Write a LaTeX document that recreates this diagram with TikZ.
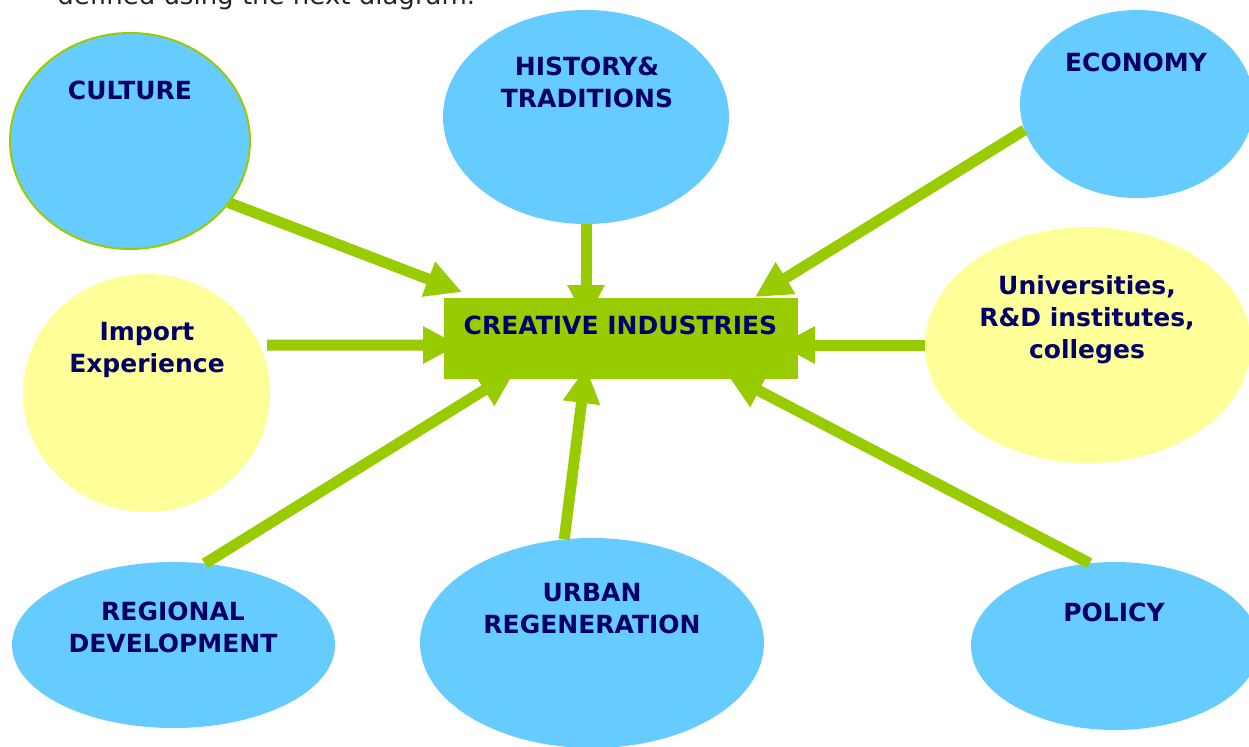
\documentclass[tikz,border=0pt]{standalone}
\usepackage{fontspec}
\setmainfont{DejaVu Sans}
\usetikzlibrary{shapes.geometric,arrows.meta}
\definecolor{cblue}{HTML}{66CCFF}
\definecolor{cyel}{HTML}{FFFF99}
\definecolor{cgreen}{HTML}{99CC00}
\definecolor{cnavy}{HTML}{000066}
\begin{document}
\begin{tikzpicture}[x=0.5pt,y=-0.5pt,
  bubble/.style={ellipse,inner sep=0pt,outer sep=0pt,draw=none},
  blueb/.style={bubble,fill=cblue},
  yelb/.style={bubble,fill=cyel},
  lbl/.style={font=\bfseries\fontsize{12.5}{16}\selectfont,text=cnavy,align=center,inner sep=0pt},
  arr/.style={draw=cgreen,line width=5.5pt,-{Triangle[length=18pt,width=17.5pt]}},
  hub/.style={rectangle,fill=cgreen,inner sep=0pt,outer sep=0pt,minimum width=177pt,minimum height=40.5pt}]
\useasboundingbox (0,0) rectangle (1249,746);

\node[anchor=base west,font=\fontsize{13}{15}\selectfont,inner sep=0pt,text=black!85] (intro) at (57,4.5) {defined using the next diagram.};

% bubbles
\node[blueb,draw=cgreen,line width=1pt,minimum width=120pt,minimum height=108pt] (culture) at (130,141) {};
\node[blueb,minimum width=143pt,minimum height=107pt] (history) at (586,117) {};
\node[blueb,minimum width=117pt,minimum height=94pt] (economy) at (1137,104) {};
\node[yelb,minimum width=123.5pt,minimum height=119pt] (import) at (146.5,393) {};
\node[yelb,minimum width=163pt,minimum height=118pt] (univ) at (1088,345) {};
\node[blueb,minimum width=161.5pt,minimum height=83pt] (regional) at (173.5,645) {};
\node[blueb,minimum width=172pt,minimum height=105pt] (urban) at (592,643) {};
\node[blueb,minimum width=144pt,minimum height=84pt] (policy) at (1115,646) {};

% arrow tips (hidden inside / at the hub)
\coordinate (tC) at (462,292);
\coordinate (tH) at (586,321);
\coordinate (tE) at (755,297);
\coordinate (tI) at (459,345);
\coordinate (tU) at (779,345);
\coordinate (tR) at (515,371);
\coordinate (tB) at (586,367);
\coordinate (tP) at (727,374);

\draw[arr] (culture.-32.3) -- (tC);
\draw[arr] (history.south) -- (tH);
\draw[arr] (economy.193) -- (tE);
\draw[arr,shorten <=3.75pt] (import.23) -- (tI);
\draw[arr] (univ.west) -- (tU);
\draw[arr] (regional.69.4) -- (tR);
\draw[arr] (urban.105.3) -- (tB);
\draw[arr] (policy.107.6) -- (tP);

% hub
\node[hub] (ci) at (621,338.5) {};

% labels
\node[lbl] (tculture) at (130,90) {CULTURE};
\node[lbl] (thistory) at (587,82) {HISTORY\&\\TRADITIONS};
\node[lbl] (teconomy) at (1136,62) {ECONOMY};
\node[lbl] (timport) at (147,350) {Import\\Experience};
\node[lbl] (tuniv) at (1087,319.5) {Universities,\\R\&D institutes,\\colleges};
\node[lbl] (tregional) at (173,627.5) {REGIONAL\\DEVELOPMENT};
\node[lbl] (turban) at (592,609) {URBAN\\REGENERATION};
\node[lbl] (tpolicy) at (1114,612) {POLICY};
\node[lbl] (tci) at (620.5,325.5) {CREATIVE INDUSTRIES};
\end{tikzpicture}
\end{document}
